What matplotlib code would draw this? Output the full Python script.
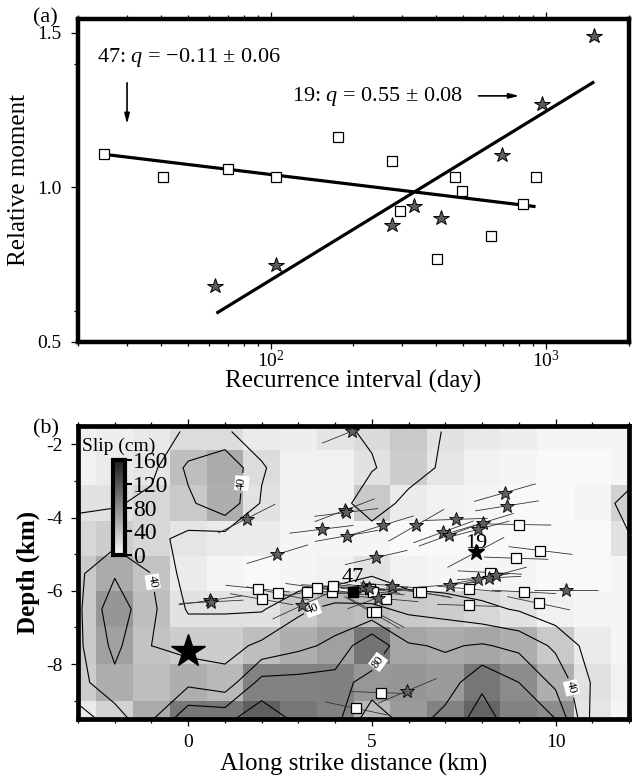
import numpy as np
import matplotlib
matplotlib.use("Agg")
from matplotlib import pyplot as plt
from matplotlib.colors import LinearSegmentedColormap
from matplotlib.collections import LineCollection
from matplotlib.ticker import FixedLocator, MultipleLocator, NullFormatter, FormatStrFormatter

plt.rcParams['font.family'] = ['Liberation Serif', 'DejaVu Sans']
plt.rcParams['mathtext.fontset'] = 'custom'
plt.rcParams['mathtext.rm'] = 'Liberation Serif'
plt.rcParams['mathtext.it'] = 'Liberation Serif:italic'
plt.rcParams['axes.unicode_minus'] = False

# ---- (a) recurrence interval vs relative moment
rec47 = [24.9, 40.8, 70.3, 104.5, 175.7, 276.5, 293.8, 402.5, 468.6, 495.8, 631, 823, 916]
mom47 = [1.108, 1.035, 1.059, 1.035, 1.162, 1.084, 0.923, 0.768, 1.035, 0.987, 0.842, 0.945, 1.035]
rec19 = [63.1, 104.8, 276.5, 332.5, 416.5, 693, 963, 1496]
mom19 = [0.682, 0.748, 0.877, 0.940, 0.900, 1.105, 1.270, 1.489]
fit47_T = [25, 916]
fit47_M = [1.107, 0.938]
fit19_T = [63.6, 1496]
fit19_M = [0.593, 1.342]

# ---- (b) slip model (cm), rows top -> bottom, columns x = -3..12 km
slip_x = np.arange(-3, 13)
slip_y = np.array([-1.65, -2.64, -3.61, -4.58, -5.53, -6.5, -7.5, -8.5, -9.5])
slip_y_edges = np.array([-1.15, -2.15, -3.12, -4.1, -5.05, -6.0, -7.0, -8.0, -9.0, -10.0])
slip = np.array([
    [7, 9, 13, 22, 22, 11, 9, 16, 23, 36, 18, 13, 9, 4, 4, 4],
    [7, 11, 15, 44, 58, 22, 7, 7, 18, 33, 15, 7, 4, 1, 1, 4],
    [18, 18, 25, 36, 55, 18, 7, 7, 36, 11, 7, 4, 1, 1, 4, 30],
    [25, 33, 25, 15, 11, 11, 4, 4, 4, 1, 1, 1, 1, 0, 1, 18],
    [36, 58, 40, 11, 4, 1, 4, 7, 18, 7, 4, 4, 4, 1, 1, 4],
    [36, 73, 44, 18, 18, 18, 36, 47, 44, 36, 33, 25, 18, 7, 4, 4],
    [36, 65, 40, 33, 33, 44, 55, 65, 97, 62, 58, 62, 55, 36, 11, 4],
    [33, 55, 44, 55, 47, 87, 87, 88, 72, 73, 69, 96, 80, 55, 18, 7],
    [11, 29, 58, 95, 95, 113, 95, 87, 47, 69, 87, 109, 87, 80, 15, 4],
])

# events of sequence 19 (stars) and 47 (squares): position (km) and slip direction (deg)
star_x = [4.46, 4.26, 4.30, 3.63, 4.31, 5.30, 6.21, 7.28, 6.95, 7.10, 8.03, 7.90, 8.62, 8.68, 5.12,
          7.90, 8.19, 8.37, 7.13, 5.55, 4.75, 4.91, 5.16, 10.29, 3.09, 1.59, 2.43, 0.60, 0.63, 5.97]
star_y = [-1.64, -3.80, -3.86, -4.32, -4.50, -4.21, -4.21, -4.05, -4.39, -4.48, -4.14, -4.32, -3.32, -3.68, -5.09,
          -5.68, -5.65, -5.58, -5.83, -5.86, -5.90, -5.92, -6.19, -5.98, -6.40, -4.03, -5.00, -6.26, -6.30, -8.73]
star_ang = [22, 21, 7, 7, 10, 17, 30, 2, 20, 20, 17, 15, 16, 9, 13,
            10, 3, 15, 5, -5, -5, -10, 20, 0, 25, 27, 17, 8, 3, 23]
sq_x = [9.01, 9.59, 8.93, 8.21, 7.65, 9.14, 9.54, 7.65, 6.25, 6.33, 5.39, 5.00, 5.11, 4.96, 5.02, 3.92,
        3.95, 3.51, 3.24, 1.89, 2.00, 2.45, 5.25, 4.57]
sq_y = [-4.19, -4.90, -5.11, -5.50, -5.95, -6.03, -6.34, -6.40, -6.04, -6.04, -6.22, -6.59, -6.59, -5.95, -6.02, -6.04,
        -5.88, -5.92, -6.03, -5.94, -6.23, -6.07, -8.78, -9.21]
sq_ang = [-1, -7, -2, -3, -5, -3, -12, -2, -8, -10, -5, -30, -28, -3, -6, -4,
          -3, -8, 10, -6, -10, -12, -2, -12]
ev19 = (7.83, -4.95, 28)
ev47 = (4.48, -6.04, 5)
hypo = (0.0, -7.65)

seg_len = 1.75

fig = plt.figure(figsize=(6.32, 7.83), dpi=100)
W, H = 632, 783

# ================= (a)
ax1 = fig.add_axes([78 / W, 1 - 342 / H, 551 / W, 323 / H])
ax1.set_xscale('log')
ax1.plot(fit47_T, fit47_M, color='k', lw=2.3, solid_capstyle='butt')
ax1.plot(fit19_T, fit19_M, color='k', lw=2.3, solid_capstyle='butt')
ax1.plot(rec47, mom47, 's', ms=7.5, mfc='white', mec='k', mew=0.9, zorder=3)
ax1.plot(rec19, mom19, '*', ms=11.5, mfc='#5c5c5c', mec='k', mew=0.7, zorder=3)
ax1.set_xlim(20, 2000)
ax1.set_ylim(0.5, 1.545)
ax1.set_yticks([0.5, 1.0, 1.5])
ax1.yaxis.set_major_formatter(FormatStrFormatter('%.1f'))
ax1.yaxis.set_minor_locator(FixedLocator([0.6, 1.4]))
ax1.xaxis.set_minor_formatter(NullFormatter())
ax1.tick_params(which='both', direction='out', top=True, right=False, labelsize=14, width=0.9)
ax1.tick_params(which='major', length=5)
ax1.tick_params(which='minor', length=3)
ax1.tick_params(axis='x', pad=1)
ax1.tick_params(axis='y', pad=7)
for s in ax1.spines.values():
    s.set_linewidth(3.2)
ax1.set_xlabel('Recurrence interval (day)', fontsize=18)
ax1.set_ylabel('Relative moment', fontsize=18)
ax1.xaxis.set_label_coords(0.5, -0.085)
ax1.yaxis.set_label_coords(-0.087, 0.5)

ax1.text(0.0345, 0.882, '47: $q$ = \u22120.11 \u00b1 0.06', transform=ax1.transAxes,
         fontsize=16, va='center', ha='left')
ax1.annotate('', xy=(0.089, 0.666), xytext=(0.089, 0.811), xycoords='axes fraction',
             arrowprops=dict(arrowstyle='-|>,head_width=0.15,head_length=0.6', lw=1.2, color='k'))
ax1.text(0.388, 0.759, '19: $q$ = 0.55 \u00b1 0.08', transform=ax1.transAxes,
         fontsize=16, va='center', ha='left')
ax1.annotate('', xy=(0.806, 0.762), xytext=(0.722, 0.762), xycoords='axes fraction',
             arrowprops=dict(arrowstyle='-|>,head_width=0.15,head_length=0.6', lw=1.2, color='k'))
fig.text(33 / W, 1 - 18 / H, '(a)', fontsize=16, va='center', ha='left')

# ================= (b)
ax2 = fig.add_axes([78 / W, 1 - 719 / H, 551 / W, 293 / H])
cmap = LinearSegmentedColormap.from_list('slipgray', ['#fafafa', '#1e1e1e'])
x_edges = np.append(slip_x - 0.5, slip_x[-1] + 0.5)
mesh = ax2.pcolormesh(x_edges, slip_y_edges[::-1], slip[::-1], cmap=cmap, vmin=0, vmax=160,
                      shading='flat', zorder=0)
ax2.contour(slip_x, slip_y[::-1], slip[::-1], levels=[20, 60, 100],
            colors='k', linewidths=0.8, zorder=1)
cs = ax2.contour(slip_x, slip_y[::-1], slip[::-1], levels=[40, 80],
                 colors='k', linewidths=0.8, zorder=1)
labs = ax2.clabel(cs, fmt='%d', fontsize=9, inline=True, inline_spacing=3,
                  manual=[(1.35, -3.05), (-0.83, -5.73), (3.38, -6.44), (10.2, -8.7), (5.53, -8.22)])
for t in labs:
    t.set_bbox(dict(facecolor='white', edgecolor='none', pad=0.8))

# slip direction segments
ex = np.array(star_x + sq_x + [ev19[0], ev47[0]])
ey = np.array(star_y + sq_y + [ev19[1], ev47[1]])
ea = np.radians(np.array(star_ang + sq_ang + [ev19[2], ev47[2]]))
dx = 0.5 * seg_len * np.cos(ea)
dy = 0.5 * seg_len * np.sin(ea)
segs = np.stack([np.column_stack([ex - dx, ey - dy]), np.column_stack([ex + dx, ey + dy])], axis=1)
ax2.add_collection(LineCollection(segs, colors='#333333', linewidths=0.6, zorder=2))

ax2.plot(sq_x, sq_y, 's', ms=7, mfc='white', mec='k', mew=0.9, zorder=3)
ax2.plot(star_x, star_y, '*', ms=10, mfc='#5f5f5f', mec='k', mew=0.6, zorder=4)
ax2.plot(ev47[0], ev47[1], 's', ms=7.5, mfc='k', mec='k', zorder=5)
ax2.plot(ev19[0], ev19[1], '*', ms=12, mfc='k', mec='k', zorder=5)
ax2.plot(hypo[0], hypo[1], '*', ms=25, mfc='k', mec='k', zorder=5)
ax2.text(ev47[0], ev47[1] + 0.28, '47', fontsize=16, ha='center', va='baseline', zorder=6)
ax2.text(ev19[0] + 0.02, ev19[1] + 0.12, '19', fontsize=16, ha='center', va='baseline', zorder=6)

ax2.set_xlim(-3, 12)
ax2.set_ylim(-9.5, -1.5)
ax2.set_xticks([0, 5, 10])
ax2.xaxis.set_minor_locator(MultipleLocator(1))
ax2.set_yticks([-8, -6, -4, -2])
ax2.yaxis.set_minor_locator(MultipleLocator(1))
ax2.tick_params(which='both', direction='out', top=True, right=False, labelsize=14, width=0.9)
ax2.tick_params(which='major', length=5, pad=6)
ax2.tick_params(which='minor', length=3)
for s in ax2.spines.values():
    s.set_linewidth(3.4)
    s.set_zorder(10)
ax2.set_xlabel('Along strike distance (km)', fontsize=18)
ax2.set_ylabel('Depth (km)', fontsize=18, fontweight='bold')
ax2.xaxis.set_label_coords(0.5, -0.116)
ax2.yaxis.set_label_coords(-0.069, 0.5)
ax2.text(0.007, 0.93, 'Slip (cm)', transform=ax2.transAxes, fontsize=14, va='center', ha='left', zorder=11)
fig.text(33 / W, 1 - 429 / H, '(b)', fontsize=16, va='center', ha='left')

cax = fig.add_axes([113 / W, 1 - 555 / H, 12 / W, 95 / H])
cb = fig.colorbar(mesh, cax=cax, ticks=[0, 40, 80, 120, 160])
cb.outline.set_linewidth(3)
cax.tick_params(labelsize=17, length=5, width=1.5, pad=1, direction='out')

fig.savefig('out.png', dpi=100)
